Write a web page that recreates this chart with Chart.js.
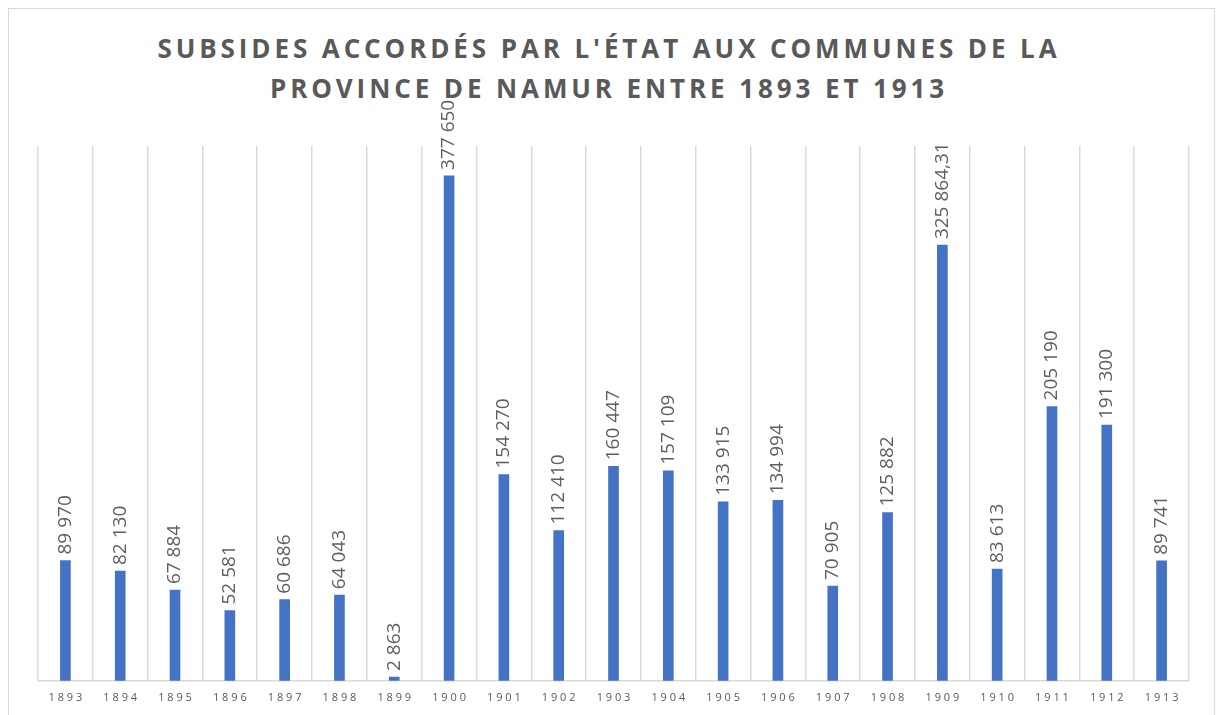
<!DOCTYPE html>
<html>
<head>
<meta charset="utf-8">
<script src="https://cdn.jsdelivr.net/npm/chart.js@4/dist/chart.umd.min.js"></script>
<style>
  html, body { margin: 0; padding: 0; background: #fff; }
  #wrap { position: relative; width: 1218px; height: 715px; overflow: hidden; }
  #frame { position: absolute; left: 8px; top: 8px; width: 1207px; height: 720px; border: 1px solid #d9d9d9; box-sizing: border-box; }
  #title { position: absolute; left: 0; top: 28px; width: 1218px; text-align: center; margin: 0;
           font-family: "Open Sans", sans-serif; font-weight: 700; font-size: 26px; line-height: 40px;
           letter-spacing: 3.9px; color: #595959; }
  canvas { position: absolute; left: 0; top: 0; }
</style>
</head>
<body>
<div id="wrap">
  <div id="frame"></div>
  <h1 id="title">SUBSIDES ACCORDÉS PAR L'ÉTAT AUX COMMUNES DE LA<br>PROVINCE DE NAMUR ENTRE 1893 ET 1913</h1>
  <canvas id="c" width="1218" height="715"></canvas>
</div>
<script>
const years = ["1893","1894","1895","1896","1897","1898","1899","1900","1901","1902","1903","1904","1905","1906","1907","1908","1909","1910","1911","1912","1913"];
const subsides = [89970, 82130, 67884, 52581, 60686, 64043, 2863, 377650, 154270, 112410, 160447, 157109, 133915, 134994, 70905, 125882, 325864.31, 83613, 205190, 191300, 89741];

function fmtFr(v) {
  const parts = String(v).split(".");
  const intPart = parts[0].replace(/\B(?=(\d{3})+(?!\d))/g, " ");
  return parts.length > 1 ? intPart + "," + parts[1] : intPart;
}

const labelPlugin = {
  id: "barLabels",
  afterDatasetsDraw(chart) {
    const ctx = chart.ctx;
    const meta = chart.getDatasetMeta(0);
    ctx.save();
    ctx.font = '19px "Open Sans", sans-serif';
    ctx.fillStyle = "#5f5f5f";
    ctx.textAlign = "left";
    ctx.textBaseline = "middle";
    meta.data.forEach((bar, i) => {
      ctx.save();
      ctx.translate(bar.x, bar.y - 6);
      ctx.rotate(-Math.PI / 2);
      ctx.fillText(fmtFr(subsides[i]), 0, 0);
      ctx.restore();
    });
    ctx.restore();
  }
};

new Chart(document.getElementById("c"), {
  type: "bar",
  data: {
    labels: years,
    datasets: [{
      data: subsides,
      backgroundColor: "#4472C4",
      barThickness: 10
    }]
  },
  options: {
    responsive: false,
    animation: false,
    layout: { padding: { left: 38, right: 29, top: 146, bottom: 1 } },
    plugins: { legend: { display: false }, tooltip: { enabled: false }, title: { display: false } },
    scales: {
      x: {
        offset: true,
        grid: { display: true, offset: true, color: "#d9d9d9", lineWidth: 1.5, drawTicks: false },
        border: { display: true, color: "#d9d9d9", width: 1.5 },
        ticks: {
          padding: 10,
          color: "#595959",
          font: { family: "'Open Sans', sans-serif", size: 11 },
          maxRotation: 0,
          callback: function(v, i) { return years[i].split("").join(" "); }
        }
      },
      y: {
        display: false,
        min: 0,
        max: 400000
      }
    }
  },
  plugins: [labelPlugin]
});
</script>
</body>
</html>
